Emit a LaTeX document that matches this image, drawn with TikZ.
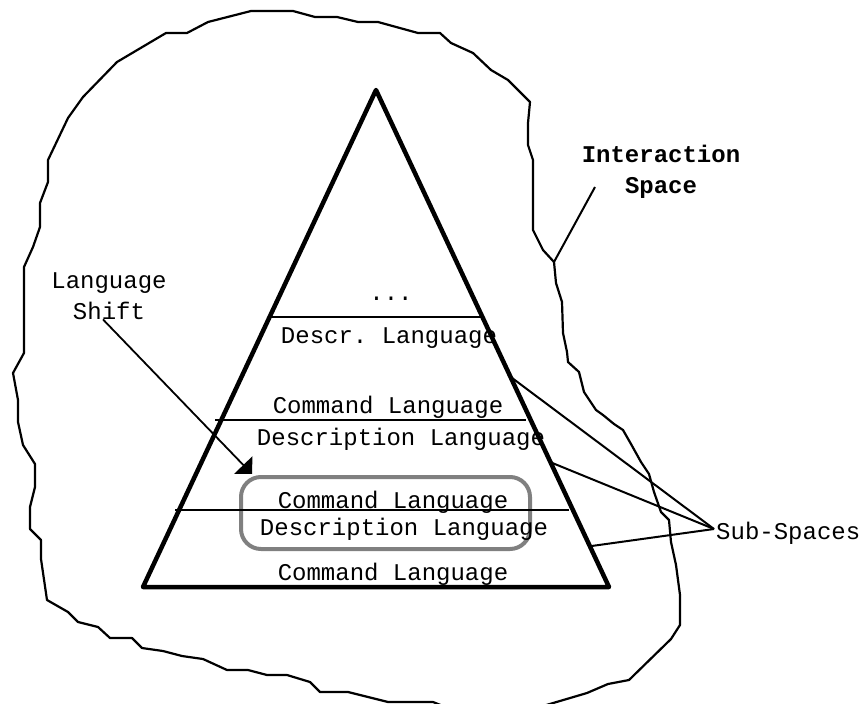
\documentclass[tikz,border=0pt]{standalone}
\usepackage{fontspec}
\setmonofont{Liberation Mono}
\usepackage{tikz}
\usetikzlibrary{arrows.meta,positioning,calc}

\begin{document}
\begin{tikzpicture}[
  x=1pt, y=-1pt,
  lbl/.style={font=\ttfamily\fontsize{24}{31}\selectfont, inner sep=0pt, anchor=base},
  outline/.style={draw, line width=2.2pt, line join=round},
  pyramid/.style={draw, line width=4.5pt, line join=round},
  layer/.style={line width=2pt},
  pointer/.style={line width=2pt},
  shiftarrow/.style={line width=1.8pt, -{Triangle[width=25pt, length=12.5pt]}},
  focus/.style={draw=black!50, line width=4pt, rounded corners=20pt},
]
\useasboundingbox (0,0) rectangle (862,704);

\draw[outline] (166,33) -- (187,33) -- (208,22) -- (251,11) -- (293,11) -- (315,17)
  -- (337,17) -- (358,22) -- (378,22) -- (418,33) -- (440,33) -- (451,43) -- (473,53)
  -- (491,70) -- (508,80) -- (530,102) -- (528,123) -- (528,145) -- (533,160)
  -- (533,230) -- (543,250) -- (554,262) -- (556,283) -- (562,302) -- (563,333)
  -- (567,352) -- (568,362) -- (579,372) -- (584,392) -- (596,410) -- (603,415)
  -- (614,424) -- (623,430) -- (631,444) -- (641,462) -- (649,474) -- (654,492)
  -- (661,512) -- (669,520) -- (671,542) -- (676,565) -- (680,595) -- (680,625)
  -- (671,639) -- (629,680) -- (608,684) -- (587,693) -- (543,706) -- (443,706)
  -- (433,702) -- (388,702) -- (348,692) -- (320,692) -- (310,682) -- (287,675)
  -- (267,675) -- (248,670) -- (227,670) -- (203,659) -- (182,656) -- (163,651)
  -- (142,648) -- (132,638) -- (110,638) -- (98,627) -- (78,622) -- (68,612)
  -- (47,600) -- (41,559) -- (41,540) -- (30,529) -- (30,507) -- (35,487)
  -- (35,464) -- (23,445) -- (18,422) -- (18,400) -- (13,373) -- (24,353)
  -- (24,267) -- (33,247) -- (40,227) -- (40,203) -- (48,182) -- (48,160)
  -- (68,118) -- (83,97) -- (117,62) -- cycle;

\coordinate (apex) at (376,90);
\coordinate (bl) at (143,587);
\coordinate (br) at (609,587);

\draw[focus] (241,477) rectangle (530,549);

\draw[layer] (271,317) -- (482,317);
\draw[layer] (215,420) -- (526,420);
\draw[layer] (175,510) -- (569,510);

\node[lbl] (dots) at (391,300) {...};
\node[lbl] (descr) at (389,343) {Descr. Language};
\node[lbl] (cmd3) at (388,413) {Command Language};
\node[lbl] (desc2) at (401,445) {Description Language};
\node[lbl] (cmd2) at (393,508) {Command Language};
\node[lbl] (desc1) at (404,535) {Description Language};
\node[lbl] (cmd1) at (393,580) {Command Language};

\draw[pyramid] (apex) -- (bl) -- (br) -- cycle;

\node[lbl, align=center] (shift) at (109,319) {Language\\Shift};
\node[lbl, align=center, font=\ttfamily\bfseries\fontsize{24}{31}\selectfont] (inter) at (661,193) {Interaction\\Space};
\node[lbl, anchor=base west] (sub) at (716,539) {Sub-Spaces};

\coordinate (shiftend) at (252,474);
\coordinate (edge) at (554,262);
\coordinate (interend) at (595,187);
\coordinate (subpt) at (714,529);

\draw[shiftarrow] ([xshift=-6pt]shift.south) -- (shiftend);
\draw[pointer] (edge) -- (interend);
\draw[pointer] ($(apex)!0.577!(br)$) -- (subpt);
\draw[pointer] ($(apex)!0.749!(br)$) -- (subpt);
\draw[pointer] ($(apex)!0.918!(br)$) -- (subpt);
\end{tikzpicture}
\end{document}
